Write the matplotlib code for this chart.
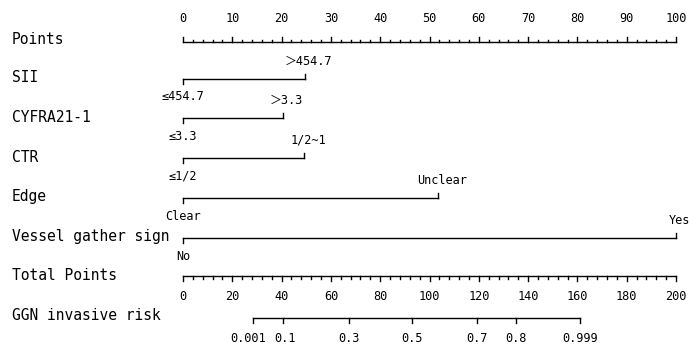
import matplotlib
matplotlib.use("Agg")
import matplotlib.pyplot as plt
import numpy as np

# ---- data ----
row_labels = ["Points", "SII", "CYFRA21-1", "CTR", "Edge", "Vessel gather sign",
              "Total Points", "GGN invasive risk"]
var_names = ["SII", "CYFRA21-1", "CTR", "Edge", "Vessel gather sign"]
var_low_labels = ["≤454.7", "≤3.3", "≤1/2", "Clear", "No"]
var_high_labels = ["＞454.7", "＞3.3", "1/2~1", "Unclear", "Yes"]
var_high_points = [24.7, 20.2, 24.6, 51.8, 100]
points_major = list(range(0, 101, 10))
points_minor = list(range(0, 101, 2))
total_major = list(range(0, 201, 20))
total_minor = list(range(0, 201, 4))
risk_labels = ["0.001", "0.1", "0.3", "0.5", "0.7", "0.8", "0.999"]
risk_total_points = [28.5, 40.4, 67.2, 92.8, 119.4, 135.1, 161.1]

# ---- layout ----
W, H = 700, 352
x0_px, px_per_pt = 183, 4.93
row_y = [42, 79, 118, 158, 198, 238, 276, 318]
label_y = [39, 77, 117, 157, 196, 237, 276, 316]
risk_label_dx_px = [-5, 2, 0, 0, 0, 0, 0]

fig = plt.figure(figsize=(W / 100, H / 100), dpi=100)
ax = fig.add_axes([0, 0, 1, 1])
ax.set_xlim(-x0_px / px_per_pt, (W - x0_px) / px_per_pt)
ax.set_ylim(H, 0)
ax.axis("off")

lw = 1.0
col = "#000000"
lab_font = dict(family=["DejaVu Sans Mono"], fontsize=10.5, color=col)
tick_font = dict(family=["DejaVu Sans Mono", "Noto Sans CJK SC"], fontsize=8.6, color=col)
left_x = (12 - x0_px) / px_per_pt

for lab, ly in zip(row_labels, label_y):
    ax.text(left_x, ly, lab, ha="left", va="center", **lab_font)

# Points axis
y = row_y[0]
ax.plot([0, 100], [y, y], color=col, lw=lw)
for v in points_minor:
    ln = 5 if v in points_major else 2.5
    ax.plot([v, v], [y, y - ln], color=col, lw=lw)
for v in points_major:
    ax.text(v, 19, str(v), ha="center", va="center", **tick_font)

# variables
for i, (lo, hi, hp) in enumerate(zip(var_low_labels, var_high_labels, var_high_points)):
    y = row_y[i + 1]
    ax.plot([0, hp], [y, y], color=col, lw=lw)
    ax.plot([0, 0], [y, y + 5], color=col, lw=lw)
    ax.plot([hp, hp], [y, y - 5], color=col, lw=lw)
    ax.text(0, y + 18, lo, ha="center", va="center", **tick_font)
    ax.text(hp + 0.8, y - 18, hi, ha="center", va="center", **tick_font)

# Total points axis (0-200 maps onto 0-100 points)
y = row_y[6]
ax.plot([0, 100], [y, y], color=col, lw=lw)
for v in total_minor:
    ln = 5 if v in total_major else 3
    ax.plot([v / 2, v / 2], [y, y + ln], color=col, lw=lw)
for v in total_major:
    ax.text(v / 2, 297, str(v), ha="center", va="center", **tick_font)

# risk axis
y = row_y[7]
rx = [t / 2 for t in risk_total_points]
ax.plot([rx[0], rx[-1]], [y, y], color=col, lw=lw)
for xv, lab, dx in zip(rx, risk_labels, risk_label_dx_px):
    ax.plot([xv, xv], [y, y + 5], color=col, lw=lw)
    ax.text(xv + dx / px_per_pt, 338, lab, ha="center", va="center", **tick_font)

fig.savefig("out.png", dpi=100)
